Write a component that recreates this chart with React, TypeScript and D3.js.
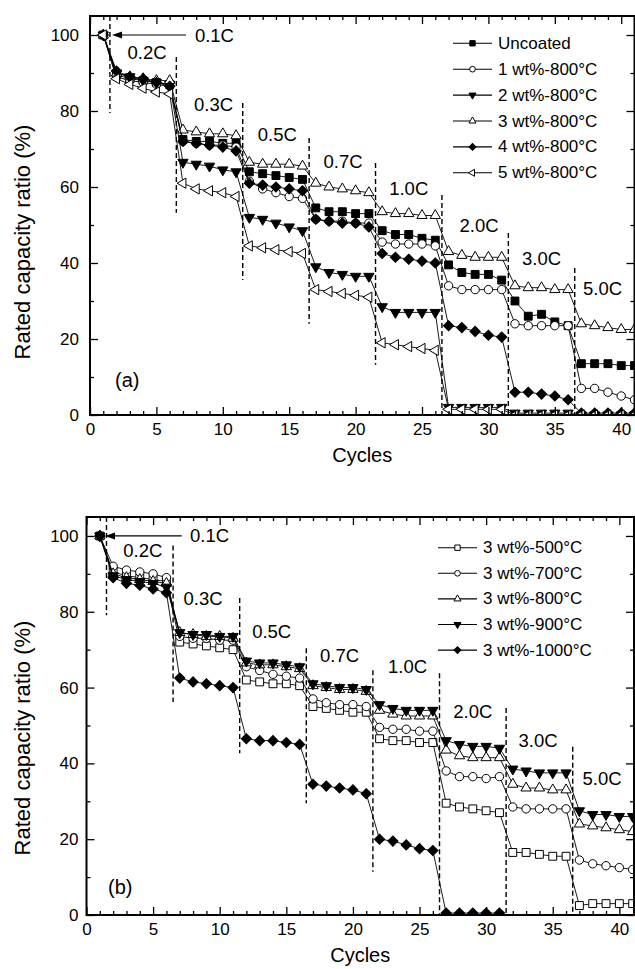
import React, { useRef, useEffect } from "react";
import * as d3 from "d3";

const FONT = "'Liberation Sans', Arial, Helvetica, sans-serif";

// cycle numbers shared by every series
const cycles = d3.range(1, 42);

// C-rate steps and the cycle boundary where each one starts
const rateNames = ["0.2C", "0.3C", "0.5C", "0.7C", "1.0C", "2.0C", "3.0C", "5.0C"];
const rateStarts = [1.5, 6.5, 11.5, 16.5, 21.5, 26.5, 31.5, 36.5];

// ---- panel (a): coating amount, fired at 800 C ----
const uncoated = [100,
  89.5, 88.5, 88, 87.5, 87,
  72.5, 72, 72, 71.5, 71.5,
  64, 63.5, 63, 62.5, 62,
  54.5, 53.5, 53.5, 53, 53,
  48.5, 47.5, 47.5, 46.5, 46,
  39.5, 37.5, 37, 37, 35.5,
  30, 26, 26.5, 24.5, 23.5,
  13.5, 13.5, 13.5, 13, 13];
const wt1 = [100,
  89, 88, 87.5, 87, 86.5,
  72, 71.5, 71, 71, 70.5,
  61.5, 59.5, 58.5, 57.5, 57,
  51.5, 51, 51, 50.5, 50.5,
  45.5, 45, 45, 45, 44.5,
  34, 33, 33, 33, 33,
  24, 23.5, 23.5, 23.5, 23.5,
  7, 7, 6, 5, 4];
const wt2 = [100,
  90, 89, 88, 87.5, 87,
  66.5, 66, 65.5, 64.5, 64,
  52, 51.5, 50.5, 49.5, 48.5,
  39, 37.5, 37, 36.5, 36.5,
  28.5, 27, 27, 27, 27,
  2, 2, 2, 2, 2,
  0.5, 0.5, 0.5, 0.5, 0.5,
  0, 0, 0, 0, 0];
const wt3 = [100,
  90, 89, 88.5, 88, 88,
  75, 74.5, 74, 74, 73.5,
  66.5, 66, 66, 66, 65.5,
  61, 60, 59.5, 59, 58.5,
  53.5, 53, 53, 52.5, 52.5,
  43, 42, 41.5, 41.5, 41.5,
  34, 33.5, 33.5, 33, 33,
  24, 23.5, 23, 22.5, 22.5];
const wt4 = [100,
  90.5, 89, 88.5, 87.5, 86.5,
  72, 71.5, 71, 70.5, 69.5,
  61, 60.5, 60, 59.5, 59,
  51.5, 51, 50.5, 50.5, 49.5,
  42.5, 41.5, 41, 40.5, 40,
  23.5, 23, 22, 21, 20.5,
  6, 6, 5.5, 5, 4,
  0.5, 0.5, 0.5, 0.5, 0.5];
const wt5 = [100,
  88.5, 87, 86, 85, 84.5,
  61, 59.5, 59, 58.5, 57.5,
  44.5, 44, 43.5, 43, 42.5,
  33, 32.5, 32, 31.5, 31,
  19, 18.5, 18, 17.5, 17,
  1.5, 1.5, 1.5, 1.5, 1.5,
  0, 0, 0, 0, 0,
  0, 0, 0, 0, 0];
const namesA = ["Uncoated", "1 wt%-800°C", "2 wt%-800°C", "3 wt%-800°C", "4 wt%-800°C", "5 wt%-800°C"];

// ---- panel (b): 3 wt%, firing temperature ----
const t500 = [100,
  90.5, 89.5, 89, 88.5, 88,
  72, 71.5, 71, 70.5, 70,
  62, 61.5, 61, 61, 60.5,
  55, 54.5, 54, 53.5, 53.5,
  46.5, 46, 46, 45.5, 45.5,
  29.5, 28.5, 28, 27.5, 27,
  16.5, 16.5, 16, 15.5, 15.5,
  2.5, 3, 3, 3, 3];
const t700 = [100,
  92, 91, 90.5, 90, 89,
  73.5, 73, 73, 72.5, 72.5,
  65.5, 64.5, 63.5, 63, 62.5,
  57, 56, 55.5, 55.5, 55,
  49.5, 49, 49, 48.5, 48.5,
  38, 36.5, 36.5, 36, 36.5,
  28.5, 28, 28, 28, 28,
  14.5, 13.5, 13, 12.5, 12];
const t800 = [100,
  90, 89, 88.5, 88, 87.5,
  74.5, 74, 73.5, 73.5, 73,
  66.5, 66, 66, 65.5, 65,
  60.5, 60, 59.5, 59.5, 59,
  54, 53, 52.5, 52.5, 52.5,
  43.5, 42, 41.5, 41.5, 41.5,
  34.5, 33.5, 33.5, 33, 33,
  24, 23.5, 23, 22.5, 22];
const t900 = [100,
  89.5, 88.5, 88, 87.5, 86.5,
  74.5, 74, 74, 73.5, 73.5,
  67, 66.5, 66.5, 66, 65.5,
  61, 60.5, 60, 60, 59.5,
  55.5, 54.5, 54, 54, 54,
  46, 45, 44.5, 44.5, 44,
  38.5, 38, 37.5, 37.5, 37.5,
  27.5, 26.5, 26.5, 26, 26];
const t1000 = [100,
  89, 87.5, 87, 86, 85,
  62.5, 61.5, 61, 60.5, 60,
  46.5, 46, 46, 45.5, 45,
  34.5, 34, 33.5, 33, 32,
  20, 19.5, 18.5, 17.5, 17,
  0.5, 0.5, 0.5, 0.5, 0.5];
const namesB = ["3 wt%-500°C", "3 wt%-700°C", "3 wt%-800°C", "3 wt%-900°C", "3 wt%-1000°C"];

const seriesA = [
  { name: namesA[0], values: uncoated, shape: "square", filled: true },
  { name: namesA[1], values: wt1, shape: "circle", filled: false },
  { name: namesA[2], values: wt2, shape: "down", filled: true },
  { name: namesA[3], values: wt3, shape: "up", filled: false },
  { name: namesA[4], values: wt4, shape: "diamond", filled: true },
  { name: namesA[5], values: wt5, shape: "left", filled: false },
];
const seriesB = [
  { name: namesB[0], values: t500, shape: "square", filled: false },
  { name: namesB[1], values: t700, shape: "circle", filled: false },
  { name: namesB[2], values: t800, shape: "up", filled: false },
  { name: namesB[3], values: t900, shape: "down", filled: true },
  { name: namesB[4], values: t1000, shape: "diamond", filled: true },
];

// annotation placement, in data units (cycle, %)
const annoA = {
  labelAt: [[4.3, 95.5], [9.3, 81.6], [14.1, 73.7], [19.05, 66.6], [24, 59.7], [29.3, 50], [34, 41.3], [38.6, 33.4]],
  dashTop: [105, 94.2, 82.1, 72.9, 66.3, 57.9, 47.9, 38.7],
  dashBottom: [79.5, 53.2, 35.5, 24, 13.2, 0, 0, 0],
  arrow: [7.23, 1.66], firstText: 7.9,
};
const annoB = {
  labelAt: [[4.23, 96.2], [8.75, 83.6], [13.9, 74.7], [19, 68.5], [24.1, 65.5], [29, 53.6], [33.9, 46.1], [38.7, 36.1]],
  dashTop: [105, 97.5, 83.6, 70.4, 64.6, 63.8, 54.6, 44.4],
  dashBottom: [79.1, 56.2, 42.7, 29.5, 11.4, 0, 0, 0],
  arrow: [7.15, 1.39], firstText: 7.77,
};

const layoutA = { left: 90, right: 634.5, top: 16, bottom: 415, xMax: 41, yPad: 11,
  legendX: 453, legendY: 43.3, legendDy: 25.9, tag: "(a)", tagX: 115, tagY: 380, titleY: 242 };
const layoutB = { left: 86.5, right: 634, top: 517, bottom: 915, xMax: 41.1, yPad: 8,
  legendX: 438, legendY: 547.7, legendDy: 25.6, tag: "(b)", tagX: 108, tagY: 887, titleY: 738 };

const SYM: any = {
  square: [d3.symbolSquare, 62], circle: [d3.symbolCircle, 55], up: [d3.symbolTriangle, 46],
  down: [d3.symbolTriangle, 46], left: [d3.symbolTriangle, 46], diamond: [d3.symbolSquare, 52],
};
const ROT: any = { square: 0, circle: 0, up: 0, down: 180, left: -90, diamond: 45 };
const markerPath = (shape: string, k: number) => d3.symbol(SYM[shape][0], SYM[shape][1] * k * k)();

const Panel = ({ series, layout, anno, id }: any) => {
  const ref = useRef<SVGGElement>(null);

  useEffect(() => {
    const g = d3.select(ref.current);
    g.selectAll("*").remove();
    const { left, right, top, bottom } = layout;
    const x = d3.scaleLinear().domain([0, layout.xMax]).range([left, right]);
    const y = d3.scaleLinear().domain([0, 105]).range([bottom, top]);

    const clipId = "clip-" + id;
    g.append("clipPath").attr("id", clipId).append("rect")
      .attr("x", left).attr("y", top).attr("width", right - left).attr("height", bottom - top);

    // dashed rate boundaries and labels
    rateStarts.forEach((c, i) => {
      g.append("line")
        .attr("x1", x(c)).attr("x2", x(c))
        .attr("y1", y(anno.dashTop[i])).attr("y2", y(anno.dashBottom[i]))
        .attr("stroke", "#000").attr("stroke-width", 1.4).attr("stroke-dasharray", "5,3");
      g.append("text")
        .attr("x", x(anno.labelAt[i][0])).attr("y", y(anno.labelAt[i][1]))
        .attr("text-anchor", "middle").attr("dominant-baseline", "central")
        .attr("font-family", FONT).attr("font-size", 18.5).text(rateNames[i]);
    });

    // 0.1C arrow
    const ay = y(100);
    g.append("line").attr("x1", x(anno.arrow[0])).attr("x2", x(anno.arrow[1]) + 8)
      .attr("y1", ay).attr("y2", ay).attr("stroke", "#000").attr("stroke-width", 1.2);
    const tip = x(anno.arrow[1]);
    g.append("path").attr("d", `M${tip},${ay}L${tip + 10},${ay - 3.5}L${tip + 10},${ay + 3.5}Z`).attr("fill", "#000");
    g.append("text").attr("x", x(anno.firstText)).attr("y", ay)
      .attr("dominant-baseline", "central").attr("font-family", FONT).attr("font-size", 18.5).text("0.1C");

    // series
    const plot = g.append("g").attr("clip-path", `url(#${clipId})`);
    const line = d3.line<number>().x((_, i) => x(cycles[i])).y((d) => y(d));
    series.forEach((s: any) => {
      plot.append("path").attr("d", line(s.values)).attr("fill", "none")
        .attr("stroke", "#000").attr("stroke-width", 0.9);
      plot.append("g").selectAll("path").data(s.values).join("path")
        .attr("d", markerPath(s.shape, 1))
        .attr("transform", (d: any, i: number) => `translate(${x(cycles[i])},${y(d)}) rotate(${ROT[s.shape]})`)
        .attr("fill", s.filled ? "#000" : "#fff").attr("stroke", "#000").attr("stroke-width", 1);
    });

    // axes, ticks inward on all four sides
    const style = (sel: any) => {
      sel.select(".domain").remove();
      sel.selectAll("line").attr("stroke", "#000").attr("stroke-width", 1.3);
      sel.selectAll("text").attr("font-family", FONT).attr("font-size", 17).attr("fill", "#000");
    };
    const none = () => "";
    const xMajor = d3.range(0, 41, 5);
    const xMinor = d3.range(1, 41).filter((v) => v % 5 !== 0);
    const yMajor = d3.range(0, 101, 20);
    const yMinor = [10, 30, 50, 70, 90];

    g.append("g").attr("transform", `translate(0,${bottom})`)
      .call(d3.axisBottom(x).tickValues(xMajor).tickSizeInner(-8).tickSizeOuter(0).tickPadding(8).tickFormat(d3.format("d")) as any).call(style);
    g.append("g").attr("transform", `translate(0,${bottom})`)
      .call(d3.axisBottom(x).tickValues(xMinor).tickSize(-4).tickFormat(none) as any).call(style);
    g.append("g").attr("transform", `translate(0,${top})`)
      .call(d3.axisTop(x).tickValues(xMajor).tickSize(-8).tickFormat(none) as any).call(style);
    g.append("g").attr("transform", `translate(0,${top})`)
      .call(d3.axisTop(x).tickValues(xMinor).tickSize(-4).tickFormat(none) as any).call(style);
    g.append("g").attr("transform", `translate(${left},0)`)
      .call(d3.axisLeft(y).tickValues(yMajor).tickSizeInner(-8).tickSizeOuter(0).tickPadding(layout.yPad) as any).call(style);
    g.append("g").attr("transform", `translate(${left},0)`)
      .call(d3.axisLeft(y).tickValues(yMinor).tickSize(-4).tickFormat(none) as any).call(style);
    g.append("g").attr("transform", `translate(${right},0)`)
      .call(d3.axisRight(y).tickValues(yMajor).tickSize(-8).tickFormat(none) as any).call(style);
    g.append("g").attr("transform", `translate(${right},0)`)
      .call(d3.axisRight(y).tickValues(yMinor).tickSize(-4).tickFormat(none) as any).call(style);

    g.append("rect").attr("x", left).attr("y", top).attr("width", right - left).attr("height", bottom - top)
      .attr("fill", "none").attr("stroke", "#000").attr("stroke-width", 2);

    // axis titles
    g.append("text").attr("x", (left + right) / 2).attr("y", bottom + 47)
      .attr("text-anchor", "middle").attr("font-family", FONT).attr("font-size", 20).text("Cycles");
    g.append("text").attr("transform", `translate(22.5,${layout.titleY}) rotate(-90)`)
      .attr("text-anchor", "middle").attr("dominant-baseline", "central")
      .attr("font-family", FONT).attr("font-size", 22).text("Rated capacity ratio (%)");
    g.append("text").attr("x", layout.tagX).attr("y", layout.tagY).attr("dominant-baseline", "central")
      .attr("font-family", FONT).attr("font-size", 20).text(layout.tag);

    // legend
    series.forEach((s: any, i: number) => {
      const ly = layout.legendY + i * layout.legendDy;
      const lx = layout.legendX;
      g.append("line").attr("x1", lx).attr("x2", lx + 39).attr("y1", ly).attr("y2", ly)
        .attr("stroke", "#000").attr("stroke-width", 1.1);
      g.append("path").attr("d", markerPath(s.shape, 0.68))
        .attr("transform", `translate(${lx + 19.5},${ly}) rotate(${ROT[s.shape]})`)
        .attr("fill", s.filled ? "#000" : "#fff").attr("stroke", "#000").attr("stroke-width", 1);
      g.append("text").attr("x", lx + 45).attr("y", ly).attr("dominant-baseline", "central")
        .attr("font-family", FONT).attr("font-size", 17).text(s.name);
    });
  }, [series, layout, anno, id]);

  return <g ref={ref} />;
};

const App = () => (
  <svg width={635} height={969} style={{ position: "absolute", left: 0, top: 0, background: "#fff" }}>
    <rect width={635} height={969} fill="#fff" />
    <Panel series={seriesA} layout={layoutA} anno={annoA} id="a" />
    <Panel series={seriesB} layout={layoutB} anno={annoB} id="b" />
  </svg>
);

export default App;
